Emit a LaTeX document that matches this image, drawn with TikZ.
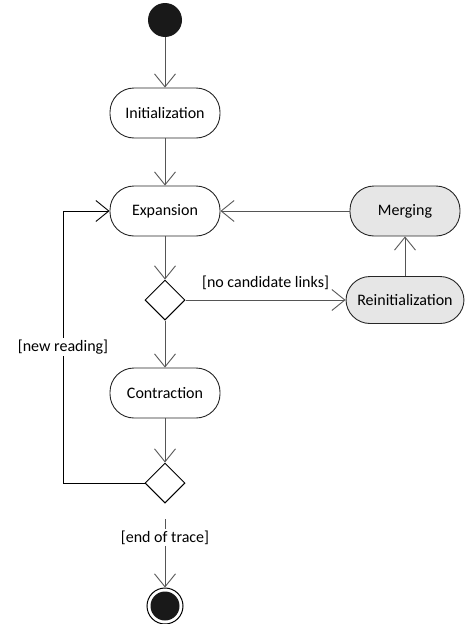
\documentclass[tikz,border=0pt]{standalone}
\usepackage{fontspec}
\setmainfont{Carlito}
\usetikzlibrary{arrows.meta,shapes.geometric}
\definecolor{lineg}{HTML}{555555}
\definecolor{boxg}{HTML}{E6E6E6}
\begin{document}
\begin{tikzpicture}[x=1pt,y=-1pt,
  act/.style={draw=black!85, line width=0.9pt, rectangle, rounded corners=24pt,
    minimum width=110pt, minimum height=50pt, font=\fontsize{16}{19}\selectfont, inner sep=0pt},
  actg/.style={act, fill=boxg},
  dec/.style={draw=black, line width=1pt, diamond, minimum width=40pt, minimum height=40pt, inner sep=0pt},
  flow/.style={draw=lineg, line width=0.9pt, -{Straight Barb[length=13pt,width=21pt,line width=0.9pt]}},
  lbl/.style={font=\fontsize{16}{19}\selectfont, fill=white, inner sep=1.5pt}
]
\useasboundingbox (0,0) rectangle (465,624);
\node[circle, fill=black!90, minimum size=34pt, inner sep=0pt] (start) at (165,20) {};
\node[act] (init) at (165,113) {Initialization};
\node[act] (exp) at (165,211) {Expansion};
\node[actg] (merge) at (405,211) {Merging};
\node[actg, minimum width=118pt, minimum height=47pt] (reinit) at (405,300) {Reinitialization};
\node[dec] (d1) at (165,300) {};
\node[act] (con) at (165,393) {Contraction};
\node[dec] (d2) at (165,483) {};
\node[circle, draw=black, line width=1pt, minimum size=36pt, inner sep=0pt] (end) at (165,606) {};
\node[circle, fill=black!90, minimum size=29pt, inner sep=0pt] (endin) at (165,606) {};
\coordinate (lp1) at (63,483);
\coordinate (lp2) at (63,211);
\coordinate (etop) at (165,519);

\draw[flow] (start) -- (init);
\draw[flow] (init) -- (exp);
\draw[flow] (exp) -- (d1);
\draw[flow] (d1) -- node[lbl, above=8pt, fill=none, pos=0.5] {[no candidate links]} (reinit);
\draw[flow] (reinit) -- (merge);
\draw[flow] (merge) -- (exp);
\draw[flow] (d1) -- (con);
\draw[flow] (con) -- (d2);
\draw[flow, draw=black] (d2.west) -- (lp1) -- node[lbl, pos=0.5] {[new reading]} (lp2) -- (exp.west);
\draw[flow] (etop) -- node[lbl, pos=0.27] {[end of trace]} (end);
\end{tikzpicture}
\end{document}
